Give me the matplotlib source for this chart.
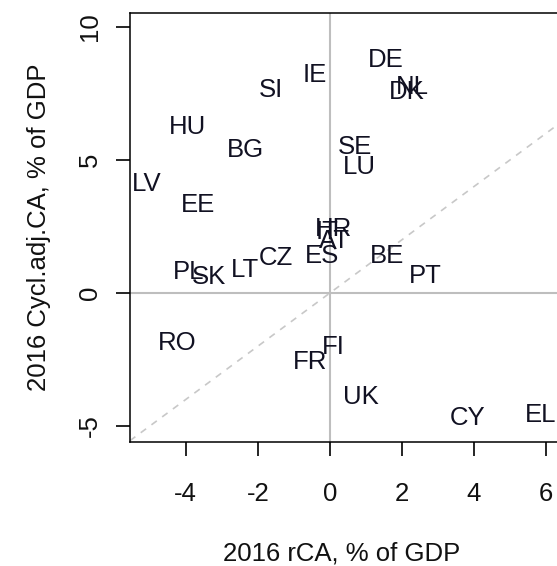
import matplotlib
matplotlib.use("Agg")
import matplotlib.pyplot as plt

# 2016 current account (x) vs cyclically adjusted current account (y), % of GDP
countries = ["DE", "NL", "DK", "IE", "SI", "HU", "BG", "SE", "LU", "LV",
             "EE", "HR", "IT", "AT", "ES", "CZ", "LT", "PL", "SK", "BE",
             "PT", "RO", "FI", "FR", "UK", "CY", "EL"]
rca = [1.55, 2.30, 2.15, -0.43, -1.63, -3.96, -2.35, 0.71, 0.82, -5.10,
       -3.65, 0.10, -0.08, 0.12, -0.21, -1.51, -2.35, -3.93, -3.37, 1.60,
       2.65, -4.24, 0.10, -0.54, 0.87, 3.82, 5.85]
cacy = [8.76, 7.75, 7.55, 8.20, 7.65, 6.24, 5.38, 5.49, 4.74, 4.10,
        3.31, 2.41, 2.30, 1.95, 1.39, 1.30, 0.87, 0.79, 0.60, 1.39,
        0.64, -1.88, -2.02, -2.61, -3.91, -4.70, -4.58]

xticks = [-4, -2, 0, 2, 4, 6]
yticks = [-5, 0, 5, 10]

plt.rcParams["font.family"] = ["Liberation Sans", "DejaVu Sans"]
fs = 18.5

fig = plt.figure(figsize=(5.57, 5.66), dpi=100)
ax = fig.add_axes([130 / 557, 124 / 566, 437.4 / 557, 429 / 566])

ax.set_xlim(-5.55, 6.6)
ax.set_ylim(-5.6, 10.53)

ax.axhline(0, color="#bebebe", lw=1.5, zorder=1)
ax.axvline(0, color="#bebebe", lw=1.5, zorder=1)
ax.axline((0, 0), slope=1, color="#c8c8c8", lw=1.2, ls=(0, (4, 4)), zorder=1)

for name, x, y in zip(countries, rca, cacy):
    ax.text(x, y, name, ha="center", va="center", fontsize=fs, color="#111122",
            clip_on=False, zorder=3)

ax.set_xticks(xticks)
ax.set_yticks(yticks)
ax.set_xticklabels([str(t) for t in xticks])
ax.set_yticklabels([str(t) for t in yticks], rotation=90, va="center")
ax.tick_params(direction="out", length=10, width=1.2, labelsize=fs,
               top=False, right=False, labelcolor="#111111")
ax.tick_params(axis="x", pad=19)
ax.tick_params(axis="y", pad=10)

for side in ["left", "bottom", "top", "right"]:
    ax.spines[side].set_linewidth(1.1)

ax.set_xlabel("2016 rCA, % of GDP", fontsize=fs, color="#111111", va="center")
ax.set_ylabel("2016 Cycl.adj.CA, % of GDP", fontsize=fs, color="#111111")
ax.xaxis.set_label_coords((342 - 130) / 437.4, -(553 - 442) / 429, transform=ax.transAxes)
ax.yaxis.set_label_coords(-(130 - 51) / 437.4, 0.5, transform=ax.transAxes)

fig.savefig("out.png", dpi=100)
